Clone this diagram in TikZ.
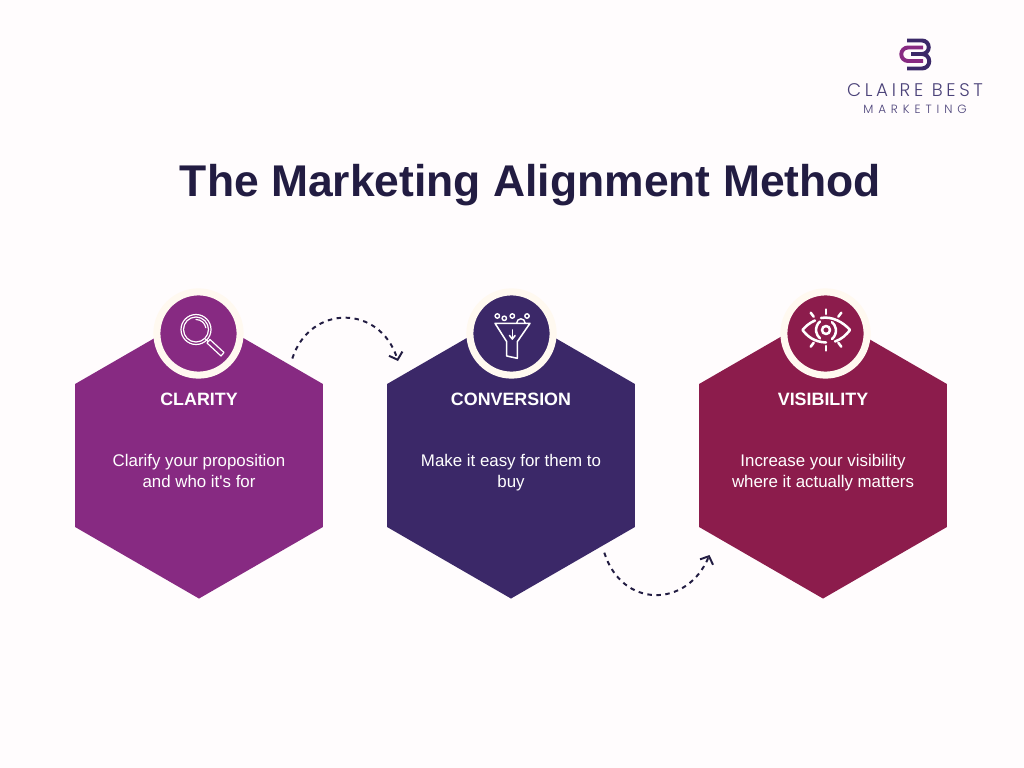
\documentclass[tikz,border=0pt]{standalone}
\usepackage{fontspec}
\setmainfont{Liberation Sans}
\newfontfamily\logofont[LetterSpace=20]{Poppins Light}
\newfontfamily\logosubfont[LetterSpace=41]{Poppins Light}
\usetikzlibrary{arrows.meta, shapes.geometric}

\definecolor{pagebg}{HTML}{FFFCFD}
\definecolor{ringcream}{HTML}{FFF9F0}
\definecolor{clarityfill}{HTML}{872A82}
\definecolor{conversionfill}{HTML}{3B2868}
\definecolor{visibilityfill}{HTML}{8C1C4C}
\definecolor{titleink}{HTML}{221C42}
\definecolor{logoink}{HTML}{4B4279}

\begin{document}
\begin{tikzpicture}[
  x=0.025cm, y=-0.025cm,
  hexa/.style={regular polygon, regular polygon sides=6, shape border rotate=30, minimum size=7.15cm, inner sep=0pt, outer sep=0pt},
  badge/.style={circle, draw=ringcream, line width=5pt, minimum size=2.08cm, inner sep=0pt},
  head/.style={text=white, font=\fontsize{12.7}{15}\selectfont\bfseries, anchor=base},
  body/.style={text=white, font=\fontsize{12}{14.7}\selectfont, align=center, anchor=base},
  icon/.style={draw=white, line width=0.85pt, line cap=round, line join=round},
  iconb/.style={draw=white, line width=1.8pt, line cap=round, line join=round},
  flow/.style={draw=titleink, line width=1.4pt, dash pattern=on 3.2pt off 3.2pt, -{Straight Barb[length=4.5pt, width=10pt]}},
]
  \useasboundingbox (0,0) rectangle (1024,768);
  \fill[pagebg] (0,0) rectangle (1024,768);

  % logo
  \draw[conversionfill, line width=2.8pt] (907,40.5) -- (922,40.5) arc[start angle=-90, end angle=90, radius=6.75] arc[start angle=-90, end angle=90, radius=7.25] -- (907,68.5);
  \draw[conversionfill, line width=2.8pt] (911,54) -- (922,54);
  \draw[clarityfill, line width=2.8pt] (923,47.5) -- (908,47.5) arc[start angle=-90, end angle=-270, radius=6.75] -- (923,61);
  \node[text=logoink, font=\logofont\fontsize{13}{15}\selectfont, anchor=base] (brand) at (915,97) {CLAIRE BEST};
  \node[text=logoink, font=\logosubfont\fontsize{8.5}{10}\selectfont, anchor=base] (brandsub) at (915,114) {MARKETING};

  \node[text=titleink, font=\fontsize{31.6}{38}\selectfont\bfseries, anchor=base] (title) at (530.5,196) {The Marketing Alignment Method};

  % hexagons
  \node[hexa, fill=clarityfill] (clarity) at (199,455.5) {};
  \node[hexa, fill=conversionfill] (conversion) at (511,455.5) {};
  \node[hexa, fill=visibilityfill] (visibility) at (823,455.5) {};

  \node[badge, fill=clarityfill] (clarityicon) at (198.5,333.5) {};
  \node[badge, fill=conversionfill] (conversionicon) at (511.5,333.5) {};
  \node[badge, fill=visibilityfill] (visibilityicon) at (825.5,333.5) {};

  \node[head] (clarityhead) at (199,405) {CLARITY};
  \node[head] (conversionhead) at (511,405) {CONVERSION};
  \node[head] (visibilityhead) at (823,405) {VISIBILITY};

  \node[body] (claritytext) at (199,487) {Clarify your proposition\\and who it\textquotesingle s for};
  \node[body] (conversiontext) at (511,487) {Make it easy for them to\\buy};
  \node[body] (visibilitytext) at (823,487) {Increase your visibility\\where it actually matters};

  % magnifier
  \draw[icon] (196,329.5) circle[radius=15];
  \draw[icon] (196,329.5) circle[radius=12.5];
  \draw[icon] (196,319.5) arc[start angle=-90, end angle=-10, radius=10];
  \draw[icon] (205.5,339) -- (208,341.5);
  \draw[icon] (207,343) -- (210,339.5) -- (224,352.5) -- (221,356) -- cycle;

  % funnel
  \draw[icon, line width=1.1pt] (495,323.3) -- (530,323.3) -- (517.3,341.7) -- (517.3,358.3) -- (506.7,356) -- (506.7,341.7) -- cycle;
  \draw[icon, line width=1.1pt] (512.3,330) -- (512.3,339);
  \draw[icon, line width=1.1pt] (509.5,335.5) -- (512.3,339) -- (515.1,335.5);
  \foreach \bx/\by in {497.3/316, 504.3/318.3, 512.3/316, 527/316}
    \draw[icon, line width=1pt] (\bx,\by) circle[radius=2.2];
  \draw[icon, line width=1pt] (516.7,323) arc[start angle=-180, end angle=0, radius=4.2];

  % eye
  \draw[iconb] (815,320.5) .. controls (809,323) and (805,327) .. (802.5,330) .. controls (807,336) and (814,342) .. (826,342.5);
  \draw[iconb] (821,318) .. controls (832,316) and (843,322) .. (850,330) .. controls (846,335) and (842,339) .. (835,341.5);
  \draw[iconb] (820,321.5) arc[start angle=-130, end angle=-230, radius=11];
  \draw[iconb] (832,339) arc[start angle=50, end angle=-50, radius=11];
  \draw[iconb] (826,330) circle[radius=4];
  \foreach \ax/\ay/\bx/\by in {826/309.5/826/314, 826/346/826/350.5, 810.7/312.7/813.7/316.7, 841.3/312.7/838.3/316.7, 810.7/346.7/813.7/342.7, 841.3/346.7/838.3/342.7}
    \draw[iconb] (\ax,\ay) -- (\bx,\by);

  % arrows
  \coordinate (claritytail) at (292.3,358.5);
  \coordinate (conversiontip) at (398,361);
  \coordinate (conversiontail) at (604.3,552.7);
  \coordinate (visibilitytip) at (709.5,555);
  \draw[flow] (claritytail) .. controls (310,304) and (380,304) .. (conversiontip);
  \draw[flow] (conversiontail) .. controls (622,608.5) and (687,608.5) .. (visibilitytip);
\end{tikzpicture}
\end{document}
